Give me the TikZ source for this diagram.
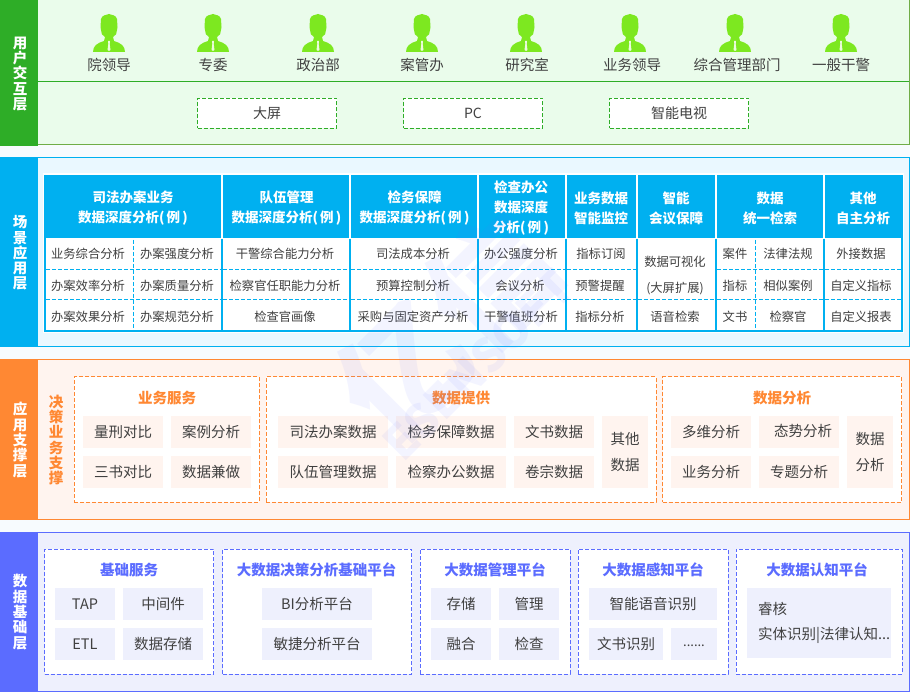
\documentclass[tikz,border=0pt]{standalone}
\usepackage{fontspec}
\setmainfont{Noto Sans CJK SC}
\definecolor{usergreen}{HTML}{2EAD27}
\definecolor{userline}{HTML}{70AD47}
\definecolor{userbg}{HTML}{EAFCEB}
\definecolor{iconlime}{HTML}{7DE820}
\definecolor{scenecyan}{HTML}{00B0F0}
\definecolor{scenebg}{HTML}{EAF8FF}
\definecolor{apporange}{HTML}{FF8833}
\definecolor{appbg}{HTML}{FFF4EF}
\definecolor{databack}{HTML}{5B6CFF}
\definecolor{databg}{HTML}{EEF0FD}
\definecolor{pagebg}{HTML}{F7FBFE}
\definecolor{celltext}{HTML}{404040}
\newcommand{\fsize}[1]{\fontsize{#1}{#1}\selectfont}
\tikzset{
  panel/.style={rectangle,inner sep=0pt,outer sep=0pt,line width=1pt},
  layerbar/.style={rectangle,inner sep=0pt,outer sep=0pt,minimum width=38pt},
  layername/.style={text=white,font=\fontsize{14.5}{15.3}\selectfont\bfseries,align=center,inner sep=0pt},
  person/.style={text=celltext,font=\fsize{14.5},inner sep=0pt,yshift=-.7pt},
  device/.style={rectangle,draw=usergreen,fill=white,dash pattern=on 4pt off 2pt,line width=1pt,
    minimum width=139pt,minimum height=30pt,inner sep=0pt,text=celltext,font=\fsize{14}},
  tabhead/.style={text=white,font=\fontsize{13.5}{20}\selectfont\bfseries,align=center,inner sep=0pt,yshift=-.8pt},
  tabcell/.style={text=celltext,font=\fsize{12.3},inner sep=0pt,text height=9.5pt,text depth=2pt,yshift=-.9pt},
  tabdash/.style={scenecyan,line width=1pt,dash pattern=on 4pt off 2pt},
  group/.style={rectangle,fill=white,dash pattern=on 4pt off 2pt,line width=1pt,inner sep=0pt,minimum height=125pt},
  grouptitle/.style={font=\fsize{14.5}\bfseries,inner sep=0pt,yshift=-.6pt},
  cell/.style={rectangle,inner sep=0pt,minimum height=32pt,text=celltext,font=\fsize{14.5},text height=12.5pt,text depth=1.5pt},
  tallcell/.style={text height=,text depth=,minimum width=46pt,minimum height=72pt,align=center,font=\fontsize{14.5}{25.5}\selectfont},
  appcell/.style={cell,fill=appbg},
  datacell/.style={cell,fill=databg},
  watermark/.style={text=databack,opacity=.07,rotate=45,inner sep=0pt},
  personicon/.pic={
    \fill[iconlime] (-16,0) .. controls (-16,-6) and (-12,-9) .. (-5,-11) -- (-4,-15)
      .. controls (-7,-16) and (-8,-19) .. (-8,-22) -- (-8.5,-25) -- (-8,-33)
      .. controls (-7,-37) and (-3,-37) .. (0,-38) .. controls (3,-37) and (7,-37) .. (8,-33)
      -- (8.5,-25) -- (8,-22) .. controls (8,-19) and (7,-16) .. (4,-15) -- (5,-11)
      .. controls (12,-9) and (16,-6) .. (16,0) -- cycle;
    \fill[white!85!iconlime] (-1,-11) -- (1,-11) -- (.7,-8) -- (1.5,-2) -- (0,-1) -- (-1.5,-2) -- (-.7,-8) -- cycle;
  }
}
\begin{document}
\begin{tikzpicture}[x=1pt,y=-1pt]
  \useasboundingbox (0,0) rectangle (910,692);
  \fill[pagebg] (0,0) rectangle (910,692);

  % user layer
  \node[panel,draw=userline,fill=userbg,minimum width=909pt,minimum height=145pt] (userpanel) at (455,72.5) {};
  \node[layerbar,fill=usergreen,minimum height=146pt] (userbar) at (19,73) {};
  \node[layername] (usertitle) at (20,74) {用\\户\\交\\互\\层};
  \draw[usergreen,line width=1pt] (38,82) -- (909,82);
  \foreach \px/\lx/\pname/\plabel in {109/109/lead/院领导,213/213/comm/专委,318/318/poli/政治部,422/422/case/案管办,
      526/527/rese/研究室,630/632/busi/业务领导,735/737/mana/综合管理部门,841/841/poli2/一般干警}{
    \pic at (\px,52) {personicon};
    \node[person] (\pname) at (\lx,64) {\plabel};
  }
  \node[device] (bigscreen) at (267,113.5) {大屏};
  \node[device] (pc) at (473,113.5) {PC};
  \node[device] (smarttv) at (679,113.5) {智能电视};

  % scene layer
  \node[panel,draw=scenecyan,fill=scenebg,minimum width=909pt,minimum height=189pt] (scenepanel) at (455,252.5) {};
  \node[layerbar,fill=scenecyan,minimum height=190pt] (scenebar) at (19,252.5) {};
  \node[layername] (scenetitle) at (20,253) {场\\景\\应\\用\\层};
  \fill[white] (43,173) rectangle (904,333);
  \fill[scenecyan] (44,175) rectangle (903,238);
  \draw[scenecyan,line width=2pt] (45,175) -- (45,331) -- (902,331) -- (902,175);
  \foreach \sx in {222,350,478,566,637,716,824}{
    \draw[white,line width=2pt] (\sx,175) -- (\sx,238);
    \draw[scenecyan,line width=2pt] (\sx,239) -- (\sx,331);
  }
  \foreach \ry in {269.5,300}{
    \draw[tabdash] (46,\ry) -- (221,\ry) (223,\ry) -- (349,\ry) (351,\ry) -- (477,\ry) (479,\ry) -- (565,\ry) (567,\ry) -- (636,\ry) (717,\ry) -- (823,\ry) (825,\ry) -- (901,\ry);
  }
  \draw[tabdash] (638,300) -- (715,300);
  \draw[tabdash] (133.5,240) -- (133.5,330);
  \draw[tabdash] (755,240) -- (755,330);
  \node[tabhead] (headcase) at (133,207) {司法办案业务\\数据深度分析(\,例\,)};
  \node[tabhead] (headteam) at (286.5,207) {队伍管理\\数据深度分析(\,例\,)};
  \node[tabhead] (headguard) at (414.5,207) {检务保障\\数据深度分析(\,例\,)};
  \node[tabhead] (headoffice) at (521,207) {检查办公\\数据深度\\分析(\,例\,)};
  \node[tabhead] (headwatch) at (601,207.5) {业务数据\\智能监控};
  \node[tabhead] (headmeet) at (676,207.5) {智能\\会议保障};
  \node[tabhead] (headsearch) at (770,207.5) {数据\\统一检索};
  \node[tabhead] (headother) at (863,207.5) {其他\\自主分析};
  \foreach \cname/\cx/\cy/\ctext in {
      ca/88/254/业务综合分析,cb/177/254/办案强度分析,cc/88/285.5/办案效率分析,cd/177/285.5/办案质量分析,
      ce/88/316.5/办案效果分析,cf/177/316.5/办案规范分析,
      cg/285/254/干警综合能力分析,ch/285/285.5/检察官任职能力分析,ci/285/316.5/检查官画像,
      cj/413/254/司法成本分析,ck/413/285.5/预算控制分析,cl/413/316.5/采购与固定资产分析,
      cm/521/254/办公强度分析,cn/520/285.5/会议分析,co/521/316.5/干警值班分析,
      cp/601/254/指标订阅,cq/600/285.5/预警提醒,cr/600/316.5/指标分析,
      cs/675/262/数据可视化,ct/675/288/(大屏扩展),cu/675/316.5/语音检索,
      cv/735/254/案件,cw/788/254/法律法规,cx/735/285.5/指标,cy/788/285.5/相似案例,
      cz/735/316.5/文书,da/788/316.5/检察官,
      db/861/254/外接数据,dc/861/285.5/自定义指标,dd/861/316.5/自定义报表}{
    \node[tabcell] (\cname) at (\cx,\cy) {\ctext};
  }

  % application layer
  \node[panel,draw=apporange,fill=appbg,minimum width=909pt,minimum height=159pt] (apppanel) at (455,439.5) {};
  \node[layerbar,fill=apporange,minimum height=160pt] (appbar) at (19,439.5) {};
  \node[layername] (apptitle) at (20,440) {应\\用\\支\\撑\\层};
  \node[layername,text=apporange] (decision) at (56,440) {决\\策\\业\\务\\支\\撑};
  \node[group,draw=apporange,minimum width=185pt] (bizgroup) at (166.5,439.5) {};
  \node[group,draw=apporange,minimum width=390pt] (datagroup) at (461,439.5) {};
  \node[group,draw=apporange,minimum width=239pt] (anagroup) at (782,439.5) {};
  \node[grouptitle,text=apporange] (biztitle) at (167,397) {业务服务};
  \node[grouptitle,text=apporange] (datatitle) at (461,397) {数据提供};
  \node[grouptitle,text=apporange] (anatitle) at (782,397) {数据分析};
  \node[appcell,minimum width=80pt] (sentence) at (123,432) {量刑对比};
  \node[appcell,minimum width=80pt] (caseana) at (211,432) {案例分析};
  \node[appcell,minimum width=80pt] (threebook) at (123,472) {三书对比};
  \node[appcell,minimum width=80pt] (datacompat) at (211,472) {数据兼做};
  \node[appcell,minimum width=110pt] (judicial) at (333,432) {司法办案数据};
  \node[appcell,minimum width=110pt] (guarddata) at (451,432) {检务保障数据};
  \node[appcell,minimum width=80pt] (docdata) at (554,432) {文书数据};
  \node[appcell,minimum width=110pt] (teamdata) at (333,472) {队伍管理数据};
  \node[appcell,minimum width=110pt] (officedata) at (451,472) {检察办公数据};
  \node[appcell,minimum width=80pt] (filedata) at (554,472) {卷宗数据};
  \node[appcell,tallcell] (otherdata) at (625,452) {其他\\数据};
  \node[appcell,minimum width=80pt] (multidim) at (711,432) {多维分析};
  \node[appcell,minimum width=80pt] (trend) at (799,432) {};
  \node[text=celltext,font=\fsize{14.5},inner sep=0pt] (trendtext) at (803,431) {态势分析};
  \node[appcell,minimum width=80pt] (bizana) at (711,472) {业务分析};
  \node[appcell,minimum width=80pt] (topic) at (799,472) {专题分析};
  \node[appcell,tallcell] (dataana) at (870,452) {数据\\分析};

  % data layer
  \node[panel,draw=databack,fill=databg,minimum width=909pt,minimum height=159pt] (datapanel) at (455,611.5) {};
  \node[layerbar,fill=databack,minimum height=160pt] (databar) at (19,611.5) {};
  \node[layername] (datalayer) at (20,612) {数\\据\\基\\础\\层};
  \node[group,draw=databack,minimum width=169pt] (basegroup) at (129,611.5) {};
  \node[group,draw=databack,minimum width=189pt] (decgroup) at (317,611.5) {};
  \node[group,draw=databack,minimum width=150pt] (mangroup) at (495,611.5) {};
  \node[group,draw=databack,minimum width=150pt] (pergroup) at (653,611.5) {};
  \node[group,draw=databack,minimum width=166pt] (cogroup) at (819,611.5) {};
  \node[grouptitle,text=databack] (basetitle) at (129,569) {基础服务};
  \node[grouptitle,text=databack] (dectitle) at (316.5,569) {大数据决策分析基础平台};
  \node[grouptitle,text=databack] (mantitle) at (495,569) {大数据管理平台};
  \node[grouptitle,text=databack] (pertitle) at (653,569) {大数据感知平台};
  \node[grouptitle,text=databack] (cotitle) at (817,569) {大数据认知平台};
  \node[datacell,minimum width=60pt] (tap) at (85,604) {TAP};
  \node[datacell,minimum width=80pt] (midware) at (163,604) {中间件};
  \node[datacell,minimum width=60pt] (etl) at (85,644) {ETL};
  \node[datacell,minimum width=80pt] (datastore) at (163,644) {数据存储};
  \node[datacell,minimum width=110pt] (biplat) at (317,604) {BI分析平台};
  \node[datacell,minimum width=110pt] (agile) at (317,644) {敏捷分析平台};
  \node[datacell,minimum width=60pt] (store) at (461,604) {存储};
  \node[datacell,minimum width=60pt] (manage) at (529,604) {管理};
  \node[datacell,minimum width=60pt] (merge) at (461,644) {融合};
  \node[datacell,minimum width=60pt] (check) at (529,644) {检查};
  \node[datacell,minimum width=128pt] (voice) at (653,604) {智能语音识别};
  \node[datacell,minimum width=74pt] (docrec) at (626,644) {文书识别};
  \node[datacell,minimum width=46pt,font=\fsize{13}] (dots) at (694,644) {\raisebox{3.5pt}{......}};
  \node[datacell,minimum width=144pt,minimum height=70pt] (cognbox) at (819,623) {};
  \node[text=celltext,font=\fsize{14.5},inner sep=0pt,anchor=west] (audit) at (758,609) {睿核};
  \node[text=celltext,font=\fsize{14.5},inner sep=0pt,anchor=west] (entity) at (758,635) {实体识别|法律认知...};

  % watermark
  \node[watermark,font=\fsize{125}\bfseries] (markcn) at (447,325) {亿信};
  \node[watermark,font=\fsize{46}\bfseries] (markeng) at (478,365) {ESENSOFT};
\end{tikzpicture}
\end{document}
